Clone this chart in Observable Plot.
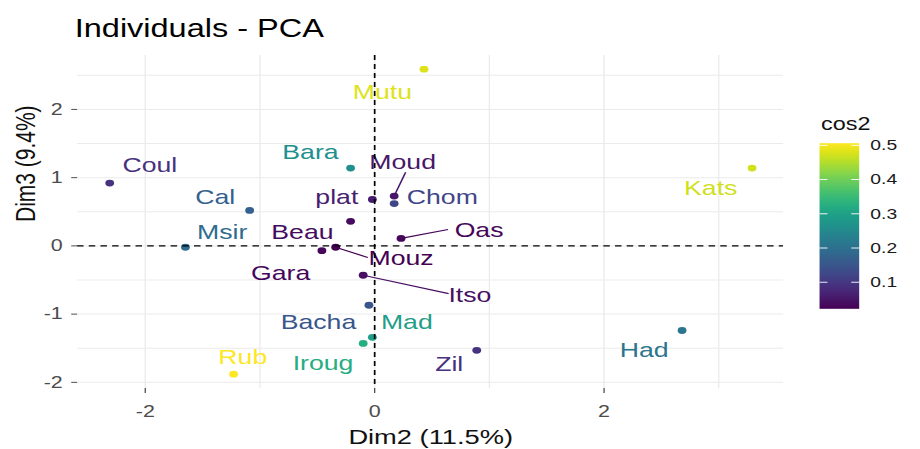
<!DOCTYPE html>
<html>
<head>
<meta charset="utf-8">
<script src="https://cdn.jsdelivr.net/npm/d3@7"></script>
<script src="https://cdn.jsdelivr.net/npm/@observablehq/plot@0.6"></script>
<style>
  html, body { margin: 0; padding: 0; background: #fff; overflow: hidden; }
  #wrap { position: relative; width: 708px; height: 449px; transform: scaleX(1.29944); transform-origin: 0 0; background: #fff; }
  #title { position: absolute; left: 57.5px; top: 15.5px; margin: 0; font: normal 25px/25px "Liberation Sans", Arial, sans-serif; color: #000; white-space: nowrap; }
  #main { position: absolute; left: 0; top: 43px; }
  #legend { position: absolute; left: 600px; top: 100px; }
</style>
</head>
<body>
<div id="wrap">
  <h2 id="title">Individuals - PCA</h2>
  <div id="main"></div>
  <div id="legend"></div>
</div>
<script>
// ---- data ----
const names  = ["Mutu","Coul","Bara","Moud","Chom","plat","Cal","Beau","Oas","Msir","Gara","Mouz","Itso","Bacha","Mad","Iroug","Rub","Zil","Had","Kats"];
const dim2   = [0.43,-2.31,-0.21,0.17,0.17,-0.02,-1.09,-0.21,0.23,-1.65,-0.46,-0.34,-0.10,-0.05,-0.02,-0.10,-1.23,0.89,2.68,3.29];
const dim3   = [2.59,0.92,1.14,0.73,0.62,0.68,0.52,0.36,0.11,-0.02,-0.07,-0.02,-0.43,-0.87,-1.34,-1.43,-1.88,-1.53,-1.24,1.14];
const cos2   = [0.48,0.09,0.26,0.05,0.12,0.06,0.17,0.035,0.03,0.19,0.03,0.021,0.04,0.15,0.29,0.32,0.505,0.09,0.21,0.47];
// label positions placed by the repel layout (data units)
const labelX = [0.067,-1.96,-0.56,0.244,0.59,-0.33,-1.39,-0.63,0.91,-1.33,-0.82,0.23,0.83,-0.49,0.28,-0.45,-1.15,0.65,2.35,2.93];
const labelY = [2.25,1.18,1.37,1.22,0.71,0.71,0.71,0.20,0.23,0.20,-0.40,-0.18,-0.73,-1.12,-1.12,-1.72,-1.63,-1.74,-1.53,0.84];
// repel segments (point -> label edge)
const lineName = ["Moud","Oas","Mouz","Itso"];
const lineEndX = [0.27,0.64,-0.06,0.645];
const lineEndY = [1.08,0.24,-0.17,-0.70];
// axes
const xTicks = [-2,0,2];
const yTicks = [-2,-1,0,1,2];
const xGrid  = [-2,-1,0,1,2,3];
const yGrid  = [-2,-1.5,-1,-0.5,0,0.5,1,1.5,2,2.5];
const legendTicks = [0.1,0.2,0.3,0.4,0.5];
const xTitle = "Dim2 (11.5%)";
const yTitle = "Dim3 (9.4%)";
const legendTitle = "cos2";

// ---- build ----
const points = names.map((name, i) => ({name, dim2: dim2[i], dim3: dim3[i], cos2: cos2[i], lx: labelX[i], ly: labelY[i]}));
const links = lineName.map((n, i) => {
  const p = points.find(d => d.name === n);
  return {...p, ex: lineEndX[i], ey: lineEndY[i]};
});
const cDomain = [d3.min(cos2), d3.max(cos2)];
const colorOpts = {type: "linear", scheme: "viridis", domain: cDomain};
const font = "'Liberation Sans', Arial, sans-serif";

const chart = Plot.plot({
  width: 708, height: 406,
  marginLeft: 59.3, marginRight: 105.4, marginTop: 12, marginBottom: 61,
  x: {domain: [-2.589, 3.566]},
  y: {domain: [-2.09, 2.79]},
  color: colorOpts,
  style: {fontFamily: font, background: "white", overflow: "visible"},
  marks: [
    Plot.ruleX(xGrid, {stroke: "#EBEBEB", strokeWidth: 1}),
    Plot.ruleY(yGrid, {stroke: "#EBEBEB", strokeWidth: 1}),
    Plot.axisX({ticks: xTicks, tickSize: 5, tickPadding: 12, fontSize: 16.5, color: "#4D4D4D", label: null, tickFormat: d => String(d)}),
    Plot.axisY({ticks: yTicks, tickSize: 4.5, tickPadding: 7, fontSize: 16.5, color: "#4D4D4D", label: null, tickFormat: d => String(d)}),
    Plot.link(links, {x1: "dim2", y1: "dim3", x2: "ex", y2: "ey", stroke: "cos2", strokeWidth: 1.2}),
    Plot.dot(points, {x: "dim2", y: "dim3", fill: "cos2", r: 3.4}),
    Plot.text(points, {x: "lx", y: "ly", text: "name", fill: "cos2", fontSize: 20.5}),
    Plot.ruleX([0], {stroke: "black", strokeWidth: 1.3, strokeDasharray: "5,4"}),
    Plot.ruleY([0], {stroke: "black", strokeWidth: 1.3, strokeDasharray: "5,4"}),
    Plot.text([xTitle], {text: d => d, frameAnchor: "bottom", lineAnchor: "bottom", dy: 55, fontSize: 21, fill: "#111"}),
    Plot.text([yTitle], {text: d => d, frameAnchor: "left", rotate: -90, lineAnchor: "bottom", dx: -32.8, fontSize: 21, fill: "#111"})
  ]
});
document.getElementById("main").appendChild(chart);

// colour bar legend (smooth gradient drawn by a render-function mark)
function colorBar(index, scales, values, dim) {
  const g = d3.create("svg:g");
  const grad = g.append("defs").append("linearGradient")
    .attr("id", "cos2-bar").attr("x1", 0).attr("x2", 0).attr("y1", 1).attr("y2", 0);
  d3.range(0, 1.0001, 0.05).forEach(t =>
    grad.append("stop").attr("offset", t).attr("stop-color", d3.interpolateViridis(t)));
  g.append("rect")
    .attr("x", dim.marginLeft).attr("y", dim.marginTop)
    .attr("width", dim.width - dim.marginLeft - dim.marginRight)
    .attr("height", dim.height - dim.marginTop - dim.marginBottom)
    .attr("fill", "url(#cos2-bar)");
  return g.node();
}
const legend = Plot.plot({
  width: 120, height: 250,
  marginLeft: 34.1, marginRight: 52, marginTop: 48, marginBottom: 18,
  x: {domain: [0, 1], axis: null},
  y: {domain: cDomain, axis: null},
  style: {fontFamily: font, background: "transparent", overflow: "visible"},
  marks: [
    colorBar,
    Plot.ruleY(legendTicks, {x1: 0, x2: 0.2, stroke: "white", strokeWidth: 1}),
    Plot.ruleY(legendTicks, {x1: 0.8, x2: 1, stroke: "white", strokeWidth: 1}),
    Plot.axisY({anchor: "right", ticks: legendTicks, tickSize: 0, tickPadding: 9, fontSize: 16.5, color: "#1a1a1a", label: null, tickFormat: d => d.toFixed(1)}),
    Plot.text([legendTitle], {text: d => d, frameAnchor: "top-left", textAnchor: "start", lineAnchor: "bottom", dx: 0.8, dy: -15, fontSize: 20, fill: "#111"})
  ]
});
document.getElementById("legend").appendChild(legend);
</script>
</body>
</html>
